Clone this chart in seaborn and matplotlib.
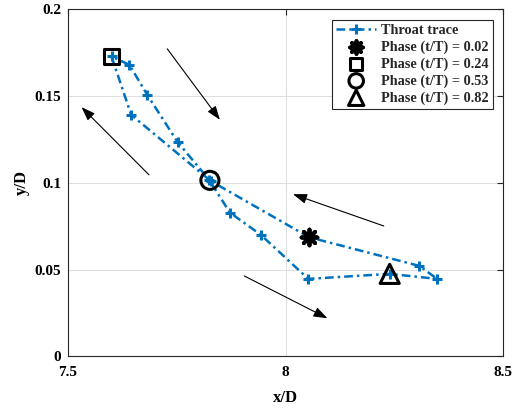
import numpy as np
import pandas as pd
import matplotlib
matplotlib.use("Agg")
import matplotlib.pyplot as plt
import seaborn as sns
from matplotlib.lines import Line2D

# ---- data ----
trace_x = [8.054, 7.828, 7.645, 7.600, 7.641, 7.682, 7.752, 7.824,
           7.872, 7.943, 8.052, 8.239, 8.348, 8.307, 8.054]
trace_y = [0.0686, 0.1010, 0.1392, 0.1728, 0.1680, 0.1507, 0.1234, 0.1018,
           0.0828, 0.0700, 0.0446, 0.0475, 0.0446, 0.0521, 0.0686]

phase_labels = ["Phase (t/T) = 0.02", "Phase (t/T) = 0.24",
                "Phase (t/T) = 0.53", "Phase (t/T) = 0.82"]
phase_x = [8.054, 7.600, 7.826, 8.239]
phase_y = [0.0686, 0.1728, 0.1014, 0.0475]

x_ticks = [7.5, 8, 8.5]
x_ticklabels = ["7.5", "8", "8.5"]
y_ticks = [0, 0.05, 0.1, 0.15, 0.2]
y_ticklabels = ["0", "0.05", "0.1", "0.15", "0.2"]

# ---- style ----
sns.set_theme(style="white")
plt.rcParams["font.family"] = ["Liberation Serif", "DejaVu Serif"]
plt.rcParams["font.weight"] = "bold"

blue = "#0072BD"
dash = (0, (3.5, 1.6, 1.0, 1.6))

fig = plt.figure(figsize=(5.14, 4.09), dpi=100)
ax = fig.add_axes([0.1323, 0.1289, 0.9792 - 0.1323, 0.9773 - 0.1289])

df = pd.DataFrame({"x": trace_x, "y": trace_y})
sns.lineplot(data=df, x="x", y="y", sort=False, estimator=None, ax=ax,
             color=blue, linewidth=1.8, linestyle=dash, label="_nolegend_")
ax.plot(trace_x, trace_y, linestyle="none", marker="+", markersize=7,
        markeredgewidth=2.2, color=blue)
trace_handle = Line2D([], [], color=blue, linewidth=1.8, linestyle=dash,
                      marker="+", markersize=8.5, markeredgewidth=2.2)

markers = [(8, 2, 0), "s", "o", "^"]
sizes = [130, 120, 170, 190]
for lab, px, py, m, s in zip(phase_labels, phase_x, phase_y, markers, sizes):
    pdf = pd.DataFrame({"x": [px], "y": [py]})
    if m == (8, 2, 0):
        sns.scatterplot(data=pdf, x="x", y="y", marker=m, s=s, color="black",
                        edgecolor="black", linewidth=2.8, ax=ax, label=lab,
                        zorder=5)
    else:
        sns.scatterplot(data=pdf, x="x", y="y", marker=m, s=s,
                        facecolors="none", edgecolor="black", linewidth=2.2,
                        ax=ax, label=lab, zorder=5)

# direction arrows
arrows = [((7.728, 0.1772), (7.849, 0.1363)),
          ((7.686, 0.1046), (7.531, 0.1436)),
          ((8.2254, 0.0751), (8.017, 0.0934)),
          ((7.905, 0.0463), (8.096, 0.0219))]
for tail, tip in arrows:
    ax.annotate("", xy=tip, xytext=tail,
                arrowprops=dict(arrowstyle="-|>,head_length=0.7,head_width=0.25",
                                color="black", lw=0.8, shrinkA=0, shrinkB=0))

ax.set_xlim(7.5, 8.5)
ax.set_ylim(0, 0.2)
ax.set_xticks(x_ticks)
ax.set_xticklabels(x_ticklabels, fontsize=11, fontweight="bold", color="black")
ax.set_yticks(y_ticks)
ax.set_yticklabels(y_ticklabels, fontsize=11, fontweight="bold", color="black")
ax.set_xlabel("x/D", fontsize=12, fontweight="bold", labelpad=8, color="black")
ax.set_ylabel("y/D", fontsize=12, fontweight="bold", labelpad=3, color="black")
ax.tick_params(direction="in", length=4, width=0.8, top=True, right=True,
               color="#262626", pad=5)
ax.tick_params(axis="x", pad=7)
ax.grid(True, color="#dfdfdf", linewidth=0.8)
for sp in ax.spines.values():
    sp.set_visible(True)
    sp.set_color("#262626")
    sp.set_linewidth(0.8)

h, l = ax.get_legend_handles_labels()
hd = dict(zip(l, h))
handles = [trace_handle] + [hd[k] for k in phase_labels]
labels = ["Throat trace"] + phase_labels
leg = ax.legend(handles, labels, loc="upper right",
                bbox_to_anchor=(0.976, 0.969),
                prop={"weight": "bold", "size": 10.3}, frameon=True,
                fancybox=False, edgecolor="#262626", framealpha=1,
                handlelength=2.8, handletextpad=0.35, labelspacing=0.24,
                borderpad=0.28, borderaxespad=0, markerscale=0.8)
leg.get_frame().set_linewidth(0.8)

fig.savefig("out.png", dpi=100)
